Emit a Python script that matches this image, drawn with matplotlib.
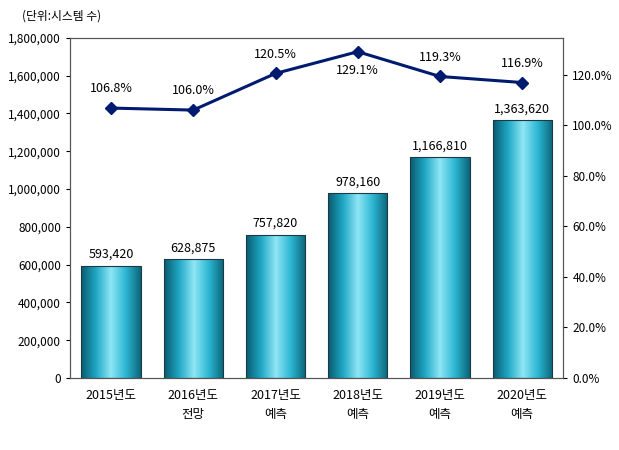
import matplotlib
matplotlib.use("Agg")
import matplotlib.pyplot as plt
import numpy as np
from matplotlib.colors import LinearSegmentedColormap
from matplotlib import font_manager

names = {f.name for f in font_manager.fontManager.ttflist}
cjk = [n for n in ["Noto Sans CJK KR", "Noto Sans CJK JP", "Noto Sans CJK SC", "Noto Sans CJK TC"] if n in names]
plt.rcParams["font.family"] = cjk + ["DejaVu Sans"]

categories = ["2015년도", "2016년도\n전망", "2017년도\n예측", "2018년도\n예측", "2019년도\n예측", "2020년도\n예측"]
systems = [593420, 628875, 757820, 978160, 1166810, 1363620]
growth = [106.8, 106.0, 120.5, 129.1, 119.3, 116.9]
left_ticks = list(range(0, 1800001, 200000))
right_ticks = list(range(0, 121, 20))

fig = plt.figure(figsize=(6.19, 4.5), dpi=100)
ax = fig.add_axes([0.113, 0.16, 0.797, 0.756])
x = np.arange(len(categories))
w = 0.72
cmap = LinearSegmentedColormap.from_list("cyl", ["#0a5a6e", "#1fa7c4", "#8fe6f5", "#2cb6d2", "#0b6478"])
grad = np.linspace(0, 1, 256).reshape(1, -1)
bars = ax.bar(x, systems, width=w, color="none", edgecolor="#1b3a44", linewidth=0.8, zorder=3)
for b in bars:
    im = ax.imshow(grad, cmap=cmap, aspect="auto", zorder=2,
                   extent=[b.get_x(), b.get_x() + b.get_width(), 0, b.get_height()])
    im.set_clip_path(b)
for xi, v in zip(x, systems):
    ax.text(xi, v + 25000, f"{v:,}", ha="center", va="bottom", fontsize=9)
ax.set_xlim(-0.5, len(categories) - 0.5)
ax.set_ylim(0, 1800000)
ax.set_yticks(left_ticks)
ax.set_yticklabels([f"{t:,}" for t in left_ticks], fontsize=8.5)
ax.set_xticks(x)
ax.set_xticklabels(categories, fontsize=9, linespacing=1.6)
ax.tick_params(axis="x", length=0, pad=8)
ax.tick_params(axis="y", direction="out", length=3)

ax2 = ax.twinx()
ax2.plot(x, growth, color="#001a70", linewidth=2.2, marker="D", markersize=6, zorder=5)
ax2.set_ylim(0, 134.6)
ax2.set_yticks(right_ticks)
ax2.set_yticklabels([f"{t:.1f}%" for t in right_ticks], fontsize=8.5)
ax2.tick_params(axis="y", direction="out", length=3)
for xi, g in zip(x, growth):
    if g == max(growth):
        ax2.text(xi, g - 5, f"{g:.1f}%", ha="center", va="top", fontsize=9)
    else:
        ax2.text(xi, g + 5, f"{g:.1f}%", ha="center", va="bottom", fontsize=9)
for a in (ax, ax2):
    for s in a.spines.values():
        s.set_color("#555555")
fig.text(0.035, 0.965, "(단위:시스템 수)", fontsize=8.5, va="center")
fig.savefig("out.png", dpi=100)
